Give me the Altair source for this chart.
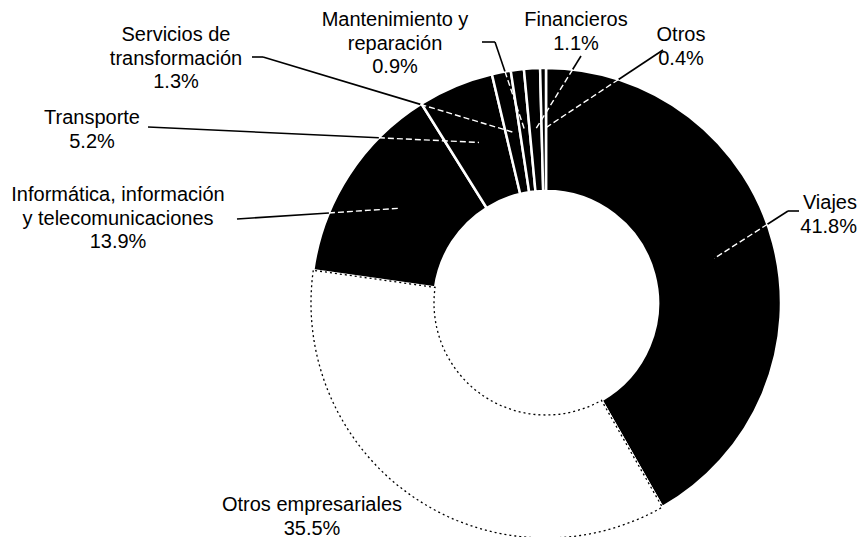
import altair as alt
import pandas as pd

# ---- data ----
categories = [
    "Viajes",
    "Otros empresariales",
    "Informática, información y telecomunicaciones",
    "Transporte",
    "Servicios de transformación",
    "Mantenimiento y reparación",
    "Financieros",
    "Otros",
]
label_names = [
    "Viajes",
    "Otros empresariales",
    "Informática, información\ny telecomunicaciones",
    "Transporte",
    "Servicios de\ntransformación",
    "Mantenimiento y\nreparación",
    "Financieros",
    "Otros",
]
shares = [41.8, 35.5, 13.9, 5.2, 1.3, 0.9, 1.1, 0.4]
slice_colors = ["#000000", "#ffffff", "#000000", "#000000", "#000000", "#000000", "#000000", "#000000"]

# ---- layout / style (not data) ----
W, H = 849, 529
CX, CY = 538, 295
R_OUT, R_IN, R_MID = 235, 112, 174
FONT = "Liberation Sans"
FS = 20
LH = 23.5

# label anchor (x, y of first line, align) per category
label_pos = [
    (849, 195, "right"),
    (304, 497, "center"),
    (110, 187, "center"),
    (84, 110, "center"),
    (168, 27, "center"),
    (387, 12, "center"),
    (568, 12, "center"),
    (673, 27, "center"),
]
# leader line start and elbow per category (None = no leader line)
leader_start = [(791, 203), None, (229, 211), (140, 119), (244, 49), (474, 34), (573, 48), (655, 42)]
leader_elbow = [(780, 203), None, (229, 211), (140, 119), (255, 49), (487, 34), (573, 48), (655, 42)]
inner_line_color = ["#ffffff", "#000000", "#ffffff", "#ffffff", "#ffffff", "#ffffff", "#ffffff", "#ffffff"]

df = pd.DataFrame({
    "cat": categories,
    "share": shares,
    "order": list(range(len(categories))),
    "label": [n + "\n" + f"{v:.1f}%" for n, v in zip(label_names, shares)],
    "lx": [p[0] for p in label_pos],
    "ly": [p[1] for p in label_pos],
    "align": [p[2] for p in label_pos],
    "leader": [p is not None for p in leader_start],
    "sx": [p[0] if p else 0 for p in leader_start],
    "sy": [p[1] if p else 0 for p in leader_start],
    "ex": [p[0] if p else 0 for p in leader_elbow],
    "ey": [p[1] if p else 0 for p in leader_elbow],
    "icol": inner_line_color,
})

base = alt.Chart(df)

theta = alt.Theta("share:Q", stack=True)
order = alt.Order("order:Q")

arcs = base.mark_arc(
    innerRadius=R_IN, outerRadius=R_OUT, x=CX, y=CY,
    stroke="white", strokeWidth=2.5,
).encode(
    theta=theta,
    order=order,
    color=alt.Color("cat:N", scale=alt.Scale(domain=categories, range=slice_colors), legend=None),
)

outline = base.mark_arc(
    innerRadius=R_IN, outerRadius=R_OUT, x=CX, y=CY,
    fillOpacity=0, stroke="black", strokeWidth=1.3, strokeDash=[2, 3],
).encode(
    theta=theta,
    order=order,
    strokeOpacity=alt.condition(alt.datum.cat == "Otros empresariales", alt.value(1), alt.value(0)),
)

geo = base.transform_joinaggregate(
    total="sum(share)"
).transform_window(
    cum="sum(share)", sort=[alt.SortField("order")], frame=[None, 0]
).transform_filter(
    alt.datum.leader
).transform_calculate(
    mid="(datum.cum - datum.share / 2) / datum.total * 2 * PI",
).transform_calculate(
    px=f"{CX} + {R_MID} * sin(datum.mid)",
    py=f"{CY} - {R_MID} * cos(datum.mid)",
).transform_calculate(
    dx="datum.px - datum.ex", dy="datum.py - datum.ey",
    fx=f"datum.ex - {CX}", fy=f"datum.ey - {CY}",
).transform_calculate(
    qa="datum.dx * datum.dx + datum.dy * datum.dy",
    qb="2 * (datum.fx * datum.dx + datum.fy * datum.dy)",
    qc=f"datum.fx * datum.fx + datum.fy * datum.fy - {R_OUT} * {R_OUT}",
).transform_calculate(
    t="(-datum.qb - sqrt(max(0, datum.qb * datum.qb - 4 * datum.qa * datum.qc))) / (2 * datum.qa)",
).transform_calculate(
    qx="datum.ex + datum.t * datum.dx", qy="datum.ey + datum.t * datum.dy",
)


def X(f):
    return alt.X(f, type="quantitative", scale=None, axis=None)


def Y(f):
    return alt.Y(f, type="quantitative", scale=None, axis=None)


seg1 = geo.mark_rule(color="black", strokeWidth=1.6).encode(
    x=X("sx"), y=Y("sy"), x2="ex", y2="ey"
)
seg2 = geo.mark_rule(color="black", strokeWidth=1.6).encode(
    x=X("ex"), y=Y("ey"), x2="qx", y2="qy"
)
seg3 = geo.mark_rule(strokeWidth=1.4, strokeDash=[6, 3]).encode(
    x=X("qx"), y=Y("qy"), x2="px", y2="py",
    color=alt.Color("icol:N", scale=None),
)

text_props = dict(font=FONT, fontSize=FS, lineBreak="\n", lineHeight=LH, baseline="middle", color="black")
labels_c = base.transform_filter(alt.datum.align == "center").mark_text(align="center", **text_props).encode(
    x=X("lx"), y=Y("ly"), text="label:N",
)
labels_r = base.transform_filter(alt.datum.align == "right").mark_text(align="right", **text_props).encode(
    x=X("lx"), y=Y("ly"), text="label:N",
)

chart = alt.layer(arcs, outline, seg1, seg2, seg3, labels_c, labels_r).properties(
    width=W, height=H, autosize=alt.AutoSizeParams(type="none"), padding=0,
).configure(background="white", view=alt.ViewConfig(stroke=None))

chart.save("out.html", embed_options={"renderer": "svg", "actions": False})
